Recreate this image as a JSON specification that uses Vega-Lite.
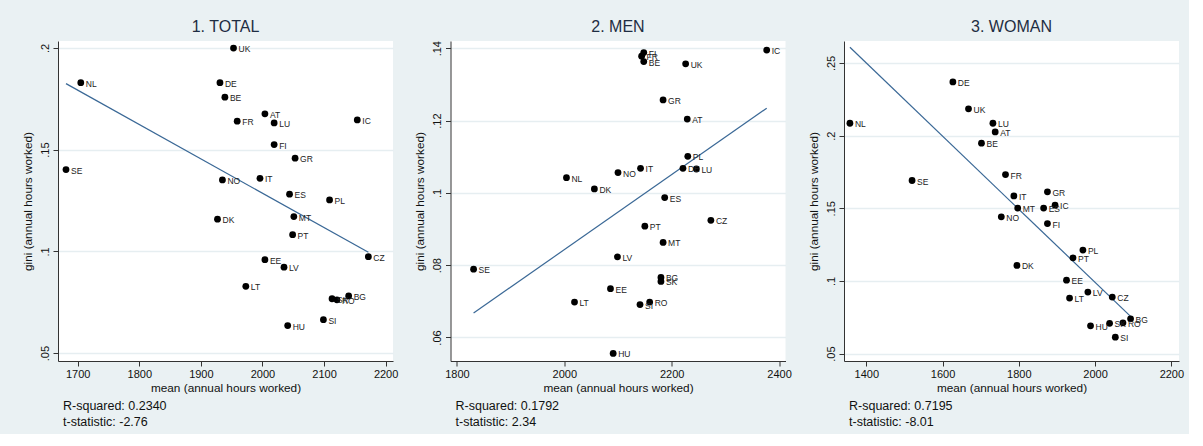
{
  "$schema": "https://vega.github.io/schema/vega-lite/v6.json",
  "background": "#eaf1f3",
  "padding": {"left": 22, "top": 18, "right": 5, "bottom": 5},
  "spacing": 16.5,
  "config": {
    "font": "Liberation Sans",
    "view": {"fill": "white", "stroke": null},
    "axis": {"labelFont": "Liberation Sans", "labelFontSize": 11, "labelColor": "#111111", "titleFont": "Liberation Sans", "titleFontSize": 11.8, "titleFontWeight": "normal", "titleColor": "#111111", "domainColor": "#333333", "tickColor": "#333333", "gridColor": "#e6eef1", "gridWidth": 1.5},
    "axisX": {"grid": false, "tickSize": 5, "labelPadding": 2, "titlePadding": 3, "format": "d"},
    "axisY": {"grid": true, "tickSize": 5, "labelAngle": -90, "labelAlign": "center", "labelBaseline": "bottom", "labelPadding": 3, "titlePadding": 6},
    "title": {"font": "Liberation Sans", "fontSize": 16, "fontWeight": "normal", "color": "#1e2d42", "offset": 6}
  },
  "datasets": {
    "total": [
      {"country": "UK", "mean": 1953, "gini": 0.1999},
      {"country": "NL", "mean": 1705, "gini": 0.1829},
      {"country": "DE", "mean": 1931, "gini": 0.1829},
      {"country": "BE", "mean": 1939, "gini": 0.1758},
      {"country": "AT", "mean": 2004, "gini": 0.1676},
      {"country": "FR", "mean": 1959, "gini": 0.1640},
      {"country": "LU", "mean": 2019, "gini": 0.1631},
      {"country": "IC", "mean": 2154, "gini": 0.1646},
      {"country": "FI", "mean": 2019, "gini": 0.1525},
      {"country": "GR", "mean": 2053, "gini": 0.1458},
      {"country": "SE", "mean": 1681, "gini": 0.1402},
      {"country": "NO", "mean": 1935, "gini": 0.1351},
      {"country": "IT", "mean": 1996, "gini": 0.1359},
      {"country": "ES", "mean": 2044, "gini": 0.1281},
      {"country": "PL", "mean": 2109, "gini": 0.1253},
      {"country": "DK", "mean": 1927, "gini": 0.1158},
      {"country": "MT", "mean": 2051, "gini": 0.1171},
      {"country": "PT", "mean": 2049, "gini": 0.1082},
      {"country": "CZ", "mean": 2172, "gini": 0.0974},
      {"country": "EE", "mean": 2004, "gini": 0.0959},
      {"country": "LV", "mean": 2035, "gini": 0.0922},
      {"country": "LT", "mean": 1973, "gini": 0.0828},
      {"country": "BG", "mean": 2140, "gini": 0.0781},
      {"country": "SK", "mean": 2113, "gini": 0.0767},
      {"country": "RO", "mean": 2121, "gini": 0.0762},
      {"country": "SI", "mean": 2099, "gini": 0.0664},
      {"country": "HU", "mean": 2041, "gini": 0.0635}
    ],
    "men": [
      {"country": "IC", "mean": 2377, "gini": 0.1395},
      {"country": "FI", "mean": 2148, "gini": 0.1388},
      {"country": "FR", "mean": 2144, "gini": 0.1378},
      {"country": "BE", "mean": 2148, "gini": 0.1363},
      {"country": "UK", "mean": 2226, "gini": 0.1357},
      {"country": "GR", "mean": 2184, "gini": 0.1257},
      {"country": "AT", "mean": 2229, "gini": 0.1204},
      {"country": "PL", "mean": 2230, "gini": 0.1101},
      {"country": "IT", "mean": 2142, "gini": 0.1068},
      {"country": "DE", "mean": 2221, "gini": 0.1068},
      {"country": "LU", "mean": 2246, "gini": 0.1066},
      {"country": "NO", "mean": 2100, "gini": 0.1056},
      {"country": "NL", "mean": 2004, "gini": 0.1042},
      {"country": "DK", "mean": 2056, "gini": 0.1011},
      {"country": "ES", "mean": 2187, "gini": 0.0987},
      {"country": "CZ", "mean": 2273, "gini": 0.0924},
      {"country": "PT", "mean": 2150, "gini": 0.0908},
      {"country": "MT", "mean": 2184, "gini": 0.0863},
      {"country": "LV", "mean": 2099, "gini": 0.0823},
      {"country": "SE", "mean": 1831, "gini": 0.0789},
      {"country": "BG", "mean": 2180, "gini": 0.0766},
      {"country": "SK", "mean": 2180, "gini": 0.0755},
      {"country": "EE", "mean": 2086, "gini": 0.0735},
      {"country": "LT", "mean": 2019, "gini": 0.0698},
      {"country": "SI", "mean": 2141, "gini": 0.0691},
      {"country": "RO", "mean": 2159, "gini": 0.0698},
      {"country": "HU", "mean": 2091, "gini": 0.0556}
    ],
    "woman": [
      {"country": "DE", "mean": 1627, "gini": 0.2369},
      {"country": "UK", "mean": 1668, "gini": 0.2184},
      {"country": "NL", "mean": 1357, "gini": 0.2085},
      {"country": "LU", "mean": 1732, "gini": 0.2085},
      {"country": "AT", "mean": 1738, "gini": 0.2025},
      {"country": "BE", "mean": 1702, "gini": 0.1948},
      {"country": "FR", "mean": 1765, "gini": 0.1732},
      {"country": "SE", "mean": 1520, "gini": 0.1691},
      {"country": "GR", "mean": 1875, "gini": 0.1613},
      {"country": "IT", "mean": 1787, "gini": 0.1585},
      {"country": "IC", "mean": 1895, "gini": 0.1521},
      {"country": "MT", "mean": 1797, "gini": 0.1501},
      {"country": "ES", "mean": 1865, "gini": 0.1501},
      {"country": "NO", "mean": 1754, "gini": 0.1441},
      {"country": "FI", "mean": 1875, "gini": 0.1395},
      {"country": "PL", "mean": 1968, "gini": 0.1212},
      {"country": "PT", "mean": 1942, "gini": 0.1159},
      {"country": "DK", "mean": 1795, "gini": 0.1107},
      {"country": "EE", "mean": 1925, "gini": 0.1005},
      {"country": "LV", "mean": 1981, "gini": 0.0923},
      {"country": "CZ", "mean": 2045, "gini": 0.0889},
      {"country": "LT", "mean": 1933, "gini": 0.0882},
      {"country": "BG", "mean": 2093, "gini": 0.0739},
      {"country": "RO", "mean": 2073, "gini": 0.0712},
      {"country": "SK", "mean": 2038, "gini": 0.0708},
      {"country": "HU", "mean": 1988, "gini": 0.0691},
      {"country": "SI", "mean": 2053, "gini": 0.0613}
    ]
  },
  "hconcat": [
    {
      "title": {"text": ["R-squared: 0.2340", "t-statistic: -2.76"], "orient": "bottom", "anchor": "start", "fontSize": 12.5, "color": "#111111", "lineHeight": 16, "offset": 6, "dx": 41},
      "vconcat": [
        {
          "width": 335, "height": 320,
          "data": {"name": "total"},
          "title": {"text": "1. TOTAL", "anchor": "middle", "frame": "group"},
          "encoding": {
            "x": {"field": "mean", "type": "quantitative", "title": "mean (annual hours worked)", "scale": {"domain": [1668, 2212], "nice": false, "zero": false}, "axis": {"values": [1700, 1800, 1900, 2000, 2100, 2200]}},
            "y": {"field": "gini", "type": "quantitative", "title": "gini (annual hours worked)", "scale": {"domain": [0.0461, 0.2034], "nice": false, "zero": false}, "axis": {"values": [0.05, 0.1, 0.15, 0.2], "labelExpr": "replace(format(datum.value, '.2~f'), '0.', '.')"}}
          },
          "layer": [
            {"mark": {"type": "line", "color": "#3a6896", "strokeWidth": 1.2}, "transform": [{"regression": "gini", "on": "mean"}]},
            {"mark": {"type": "circle", "size": 46, "color": "black", "opacity": 1}},
            {"mark": {"type": "text", "align": "left", "baseline": "middle", "dx": 5, "dy": 1, "fontSize": 8.5, "color": "#222222"}, "encoding": {"text": {"field": "country"}}}
          ]
        }
      ]
    },
    {
      "title": {"text": ["R-squared: 0.1792", "t-statistic: 2.34"], "orient": "bottom", "anchor": "start", "fontSize": 12.5, "color": "#111111", "lineHeight": 16, "offset": 6, "dx": 41},
      "vconcat": [
        {
          "width": 335, "height": 320,
          "data": {"name": "men"},
          "title": {"text": "2. MEN", "anchor": "middle", "frame": "group"},
          "encoding": {
            "x": {"field": "mean", "type": "quantitative", "title": "mean (annual hours worked)", "scale": {"domain": [1788, 2412], "nice": false, "zero": false}, "axis": {"values": [1800, 2000, 2200, 2400]}},
            "y": {"field": "gini", "type": "quantitative", "title": "gini (annual hours worked)", "scale": {"domain": [0.0535, 0.142], "nice": false, "zero": false}, "axis": {"values": [0.06, 0.08, 0.1, 0.12, 0.14], "labelExpr": "replace(format(datum.value, '.2~f'), '0.', '.')"}}
          },
          "layer": [
            {"mark": {"type": "line", "color": "#3a6896", "strokeWidth": 1.2}, "transform": [{"regression": "gini", "on": "mean"}]},
            {"mark": {"type": "circle", "size": 46, "color": "black", "opacity": 1}},
            {"mark": {"type": "text", "align": "left", "baseline": "middle", "dx": 5, "dy": 1, "fontSize": 8.5, "color": "#222222"}, "encoding": {"text": {"field": "country"}}}
          ]
        }
      ]
    },
    {
      "title": {"text": ["R-squared: 0.7195", "t-statistic: -8.01"], "orient": "bottom", "anchor": "start", "fontSize": 12.5, "color": "#111111", "lineHeight": 16, "offset": 6, "dx": 41},
      "vconcat": [
        {
          "width": 335, "height": 320,
          "data": {"name": "woman"},
          "title": {"text": "3. WOMAN", "anchor": "middle", "frame": "group"},
          "encoding": {
            "x": {"field": "mean", "type": "quantitative", "title": "mean (annual hours worked)", "scale": {"domain": [1341.5, 2220], "nice": false, "zero": false}, "axis": {"values": [1400, 1600, 1800, 2000, 2200]}},
            "y": {"field": "gini", "type": "quantitative", "title": "gini (annual hours worked)", "scale": {"domain": [0.0449, 0.2651], "nice": false, "zero": false}, "axis": {"values": [0.05, 0.1, 0.15, 0.2, 0.25], "labelExpr": "replace(format(datum.value, '.2~f'), '0.', '.')"}}
          },
          "layer": [
            {"mark": {"type": "line", "color": "#3a6896", "strokeWidth": 1.2}, "transform": [{"regression": "gini", "on": "mean"}]},
            {"mark": {"type": "circle", "size": 46, "color": "black", "opacity": 1}},
            {"mark": {"type": "text", "align": "left", "baseline": "middle", "dx": 5, "dy": 1, "fontSize": 8.5, "color": "#222222"}, "encoding": {"text": {"field": "country"}}}
          ]
        }
      ]
    }
  ]
}
